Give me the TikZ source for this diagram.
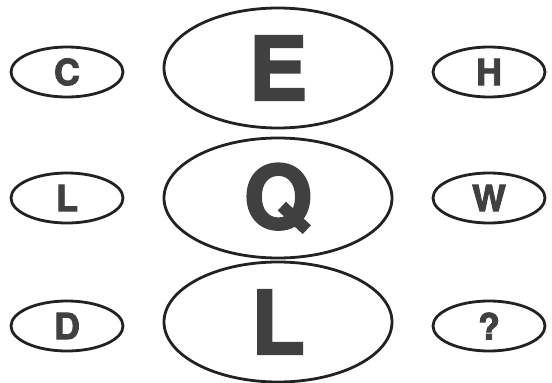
\documentclass[tikz,border=0pt]{standalone}
\usepackage{fontspec}
\setmainfont{TeX Gyre Heros}[BoldFeatures={FakeBold=2.5}]
\usetikzlibrary{shapes.geometric}
\definecolor{rim}{HTML}{222222}
\definecolor{ink}{HTML}{404040}
\tikzset{
  smallring/.style={draw=rim, ellipse, line width=2.8pt, minimum width=112pt, minimum height=50pt, inner sep=0pt, text=ink, font=\bfseries\fontsize{36}{36}\selectfont},
  bigring/.style={draw=rim, ellipse, line width=2.8pt, minimum width=228pt, minimum height=120pt, inner sep=0pt, text=ink, font=\bfseries\fontsize{88}{88}\selectfont},
}
\begin{document}
\begin{tikzpicture}[x=1pt,y=-1pt]
\useasboundingbox (0,0) rectangle (552,383);
% Define the rings
\node[smallring] (C) at (67,72) {C};
\node[bigring] (E) at (278,68) {E};
\node[smallring] (H) at (489,72) {H};
\node[smallring] (L1) at (67,198) {L};
\node[bigring] (Q) at (278,198) {Q};
\node[smallring] (W) at (489,198) {W};
\node[smallring] (D) at (67,326) {D};
\node[bigring] (L2) at (278,322) {L};
\node[smallring] (QM) at (489,326) {?};
\end{tikzpicture}
\end{document}
